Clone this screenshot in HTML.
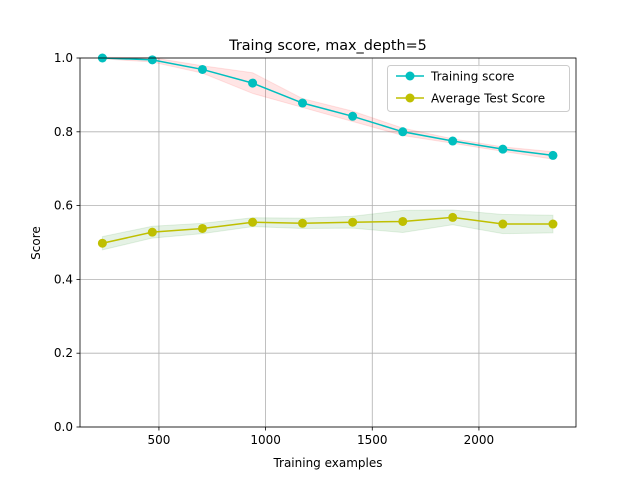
<!DOCTYPE html>
<html><head><meta charset="utf-8"><style>body{margin:0;background:#fff}svg{font-family:"DejaVu Sans","Liberation Sans",sans-serif}</style></head>
<body>
<svg id="c" width="640" height="480" viewBox="0 0 640 480"></svg>
<script>
const sizes=[235,469,704,939,1173,1408,1643,1877,2112,2347];
const trainMean=[1.0,0.995,0.969,0.932,0.878,0.842,0.800,0.775,0.753,0.736];
const trainStd=[0.002,0.006,0.01,0.028,0.012,0.014,0.01,0.006,0.006,0.01];
const testMean=[0.498,0.528,0.538,0.555,0.552,0.555,0.557,0.568,0.550,0.550];
const testStd=[0.018,0.016,0.014,0.012,0.014,0.016,0.03,0.02,0.026,0.024];
const xTicks=[500,1000,1500,2000];
const yTicks=[0,0.2,0.4,0.6,0.8,1.0];
const L=80,R=576,T=58,B=427,xmin=130,xmax=2455;
const X=v=>L+(v-xmin)/(xmax-xmin)*(R-L);
const Y=v=>B-v*(B-T);
const s=document.getElementById('c');const NS='http://www.w3.org/2000/svg';
function el(t,a,txt){const e=document.createElementNS(NS,t);for(const k in a)e.setAttribute(k,a[k]);if(txt!==undefined)e.textContent=txt;s.appendChild(e);return e;}
// grid
xTicks.forEach(v=>{const g=el('line',{x1:X(v),x2:X(v),y1:T,y2:B,stroke:'#b0b0b0','stroke-width':0.8});

});
yTicks.forEach(v=>{const g=el('line',{x1:L,x2:R,y1:Y(v),y2:Y(v),stroke:'#b0b0b0','stroke-width':0.8});

});
function band(m,sd,fill,name){let up=sizes.map((x,i)=>X(x)+','+Y(m[i]+sd[i]));let dn=sizes.map((x,i)=>X(x)+','+Y(m[i]-sd[i])).reverse();
const p=el('polygon',{points:up.concat(dn).join(' '),fill:fill,'fill-opacity':0.1,stroke:fill,'stroke-opacity':0.1});

}
band(trainMean,trainStd,'#ff0000','train-std-band');
band(testMean,testStd,'#008000','test-std-band');
function series(m,c,name){const l=el('polyline',{points:sizes.map((x,i)=>X(x)+','+Y(m[i])).join(' '),fill:'none',stroke:c,'stroke-width':1.5});


sizes.forEach((x,i)=>{const d=el('circle',{cx:X(x),cy:Y(m[i]),r:4.5,fill:c});

});}
series(trainMean,'#00bfbf','train');
series(testMean,'#bfbf00','test');
// axes frame
const f=el('rect',{x:L,y:T,width:R-L,height:B-T,fill:'none',stroke:'#000','stroke-width':0.8});


xTicks.forEach(v=>{el('line',{x1:X(v),x2:X(v),y1:B,y2:B+3.5,stroke:'#000','stroke-width':0.8});
const t=el('text',{x:X(v),y:B+17,'text-anchor':'middle','font-size':12},String(v));

});
yTicks.forEach(v=>{el('line',{x1:L-3.5,x2:L,y1:Y(v),y2:Y(v),stroke:'#000','stroke-width':0.8});
const t=el('text',{x:L-7,y:Y(v)+4,'text-anchor':'end','font-size':12},v.toFixed(1));

});
</script>
<svg width="640" height="480" style="position:absolute;left:0;top:0" font-family="DejaVu Sans, Liberation Sans, sans-serif">
<text x="328" y="50" text-anchor="middle" font-size="14.4">Traing score, max_depth=5</text>
<text x="328" y="467" text-anchor="middle" font-size="12">Training examples</text>
<text x="40" y="243" text-anchor="middle" font-size="12" transform="rotate(-90 40 243)">Score</text>
<g>
<rect x="387.5" y="65.5" width="182" height="46" rx="3" fill="#fff" fill-opacity="0.8" stroke="#ccc"/>
<g><line x1="396" x2="424" y1="76" y2="76" stroke="#00bfbf" stroke-width="1.5"/><circle cx="410" cy="76" r="4.5" fill="#00bfbf"/><text x="431" y="80.5" font-size="12">Training score</text></g>
<g><line x1="396" x2="424" y1="98" y2="98" stroke="#bfbf00" stroke-width="1.5"/><circle cx="410" cy="98" r="4.5" fill="#bfbf00"/><text x="431" y="102.5" font-size="12">Average Test Score</text></g>
</g>
</svg>
</body></html>
